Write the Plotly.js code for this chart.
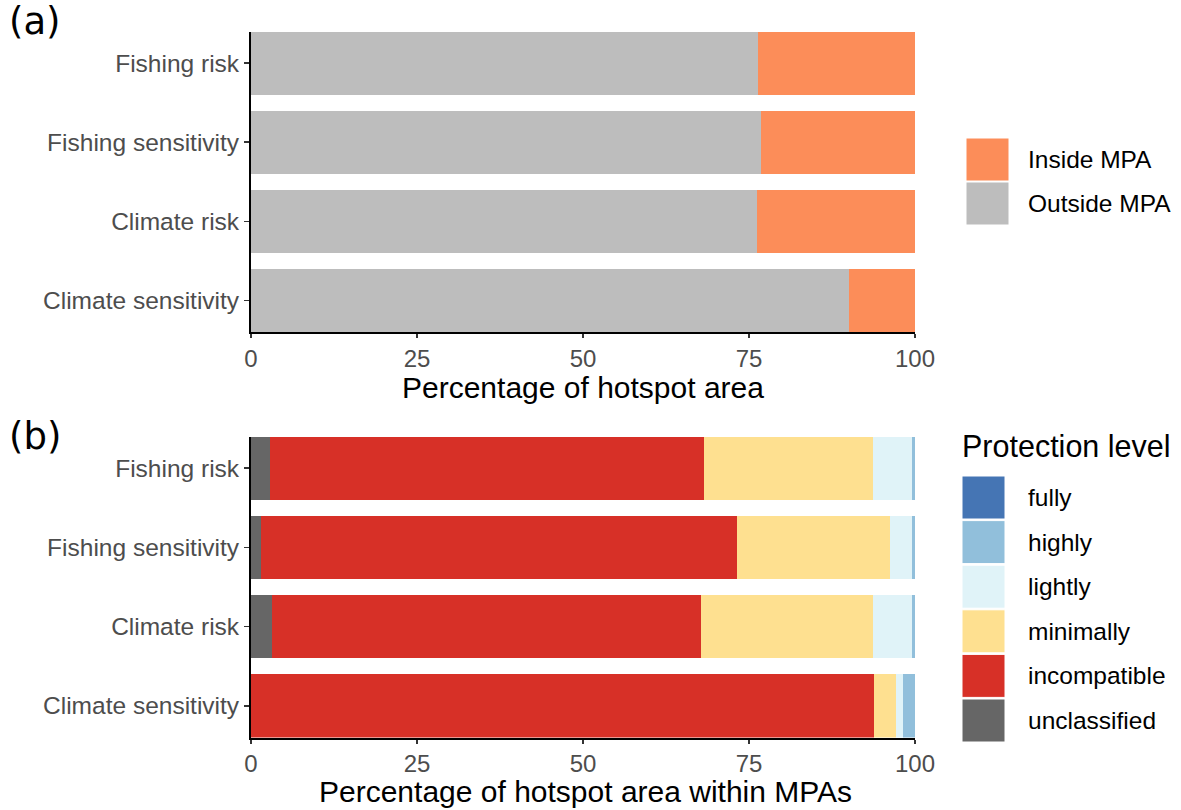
<!DOCTYPE html>
<html>
<head>
<meta charset="utf-8">
<script src="https://cdn.plot.ly/plotly-3.0.1.min.js"></script>
<style>html,body{margin:0;padding:0;background:#fff;}#chart{width:1181px;height:810px;}</style>
</head>
<body>
<div id="chart"></div>
<script>
// ---- data ----
const categories = ["Fishing risk", "Fishing sensitivity", "Climate risk", "Climate sensitivity"];

// Panel (a): percentage of hotspot area
const outsideMPA = [76.4, 76.8, 76.2, 90.1];
const insideMPA  = [23.6, 23.2, 23.8, 9.9];
const panelANames  = ["Inside MPA", "Outside MPA"];
const panelAColors = ["#FC8D59", "#BDBDBD"];

// Panel (b): percentage of hotspot area within MPAs, by protection level
const unclassified = [2.9, 1.5, 3.1, 0.0];
const incompatible = [65.3, 71.7, 64.6, 93.8];
const minimally    = [25.5, 23.1, 25.9, 3.3];
const lightly      = [5.9, 3.3, 6.0, 1.1];
const highly       = [0.4, 0.4, 0.4, 1.8];
const fully        = [0.0, 0.0, 0.0, 0.0];
const levelNames  = ["fully", "highly", "lightly", "minimally", "incompatible", "unclassified"];
const levelColors = ["#4575B4", "#91BFDB", "#E0F3F8", "#FEE090", "#D73027", "#666666"];

const xTicks = [0, 25, 50, 75, 100];
const xTitleA = "Percentage of hotspot area";
const xTitleB = "Percentage of hotspot area within MPAs";
const legendTitleB = "Protection level";

// ---- traces ----
const traces = [];
function bar(x, name, color, xa, ya) {
  return {type: "bar", orientation: "h", y: categories, x: x, name: name,
          marker: {color: color, line: {width: 0}}, xaxis: xa, yaxis: ya,
          showlegend: false, hoverinfo: "x+y+name"};
}
traces.push(bar(outsideMPA, panelANames[1], panelAColors[1], "x", "y"));
traces.push(bar(insideMPA, panelANames[0], panelAColors[0], "x", "y"));

const levelData = {fully, highly, lightly, minimally, incompatible, unclassified};
// stack from left: unclassified ... fully
for (let i = levelNames.length - 1; i >= 0; i--) {
  traces.push(bar(levelData[levelNames[i]], levelNames[i], levelColors[i], "x2", "y2"));
}

// ---- layout ----
const W = 1181, H = 810;
const px = v => v / W, py = v => 1 - v / H;
const FONT = "Liberation Sans, Arial, sans-serif";
const tickFont = {family: FONT, size: 24, color: "#4d4d4d"};
const titleFont = {family: FONT, size: 30, color: "#000"};

function xax(anchor) {
  return {domain: [px(251), px(915)], anchor: anchor, range: [0, 100], tickvals: xTicks,
          ticktext: xTicks.map(String), ticks: "outside", ticklen: 4, tickwidth: 1.5, tickcolor: "#333",
          showline: true, linecolor: "#000", linewidth: 2, showgrid: false, zeroline: false,
          tickfont: tickFont, fixedrange: true};
}
function yax(domain, anchor) {
  return {domain: domain, anchor: anchor, type: "category", categoryorder: "array",
          categoryarray: categories, range: [3.4, -0.4], ticks: "outside", ticklen: 5,
          tickwidth: 1.5, tickcolor: "#333", showline: true, linecolor: "#000", linewidth: 2,
          showgrid: false, zeroline: false, tickfont: {family: FONT, size: 24.5, color: "#4d4d4d"},
          fixedrange: true};
}

const shapes = [], annotations = [];
// axis titles
annotations.push({text: xTitleA, x: px(583), y: py(388), xref: "paper", yref: "paper",
  xanchor: "center", yanchor: "middle", showarrow: false, font: titleFont});
annotations.push({text: xTitleB, x: px(585), y: py(791), xref: "paper", yref: "paper",
  xanchor: "center", yanchor: "middle", showarrow: false, font: titleFont});
// panel labels
const panelFont = {family: "DejaVu Sans, sans-serif", size: 37, color: "#000"};
annotations.push({text: "(a)", x: px(7), y: py(22), xref: "paper", yref: "paper", xanchor: "left",
  yanchor: "middle", showarrow: false, font: panelFont});
annotations.push({text: "(b)", x: px(7), y: py(436), xref: "paper", yref: "paper", xanchor: "left",
  yanchor: "middle", showarrow: false, font: panelFont});

const legFont = {family: FONT, size: 24.5, color: "#000"};
function legendItem(name, color, x0, yTop, size) {
  shapes.push({type: "rect", xref: "paper", yref: "paper", x0: px(x0), x1: px(x0 + size),
    y0: py(yTop + size), y1: py(yTop), fillcolor: color, line: {width: 1, color: "#fff"}});
  annotations.push({text: name, x: px(1026), y: py(yTop + size / 2), xref: "paper", yref: "paper",
    xanchor: "left", yanchor: "middle", showarrow: false, font: legFont});
}
panelANames.forEach((n, i) => legendItem(n, panelAColors[i], 966, 138 + i * 44, 43));
annotations.push({text: legendTitleB, x: px(960), y: py(446), xref: "paper", yref: "paper",
  xanchor: "left", yanchor: "middle", showarrow: false,
  font: {family: FONT, size: 30.5, color: "#000"}});
levelNames.forEach((n, i) => legendItem(n, levelColors[i], 962, 476 + i * 44.6, 43));

const layout = {
  width: W, height: H, margin: {l: 0, r: 0, t: 0, b: 0},
  paper_bgcolor: "#fff", plot_bgcolor: "#fff",
  barmode: "stack", bargap: 0.2, showlegend: false,
  xaxis: xax("y"),
  yaxis: yax([py(332), py(31.5)], "x"),
  xaxis2: xax("y2"),
  yaxis2: yax([py(737.5), py(436.5)], "x2"),
  shapes: shapes, annotations: annotations
};

Plotly.newPlot("chart", traces, layout, {displayModeBar: false, staticPlot: true});
</script>
</body>
</html>
